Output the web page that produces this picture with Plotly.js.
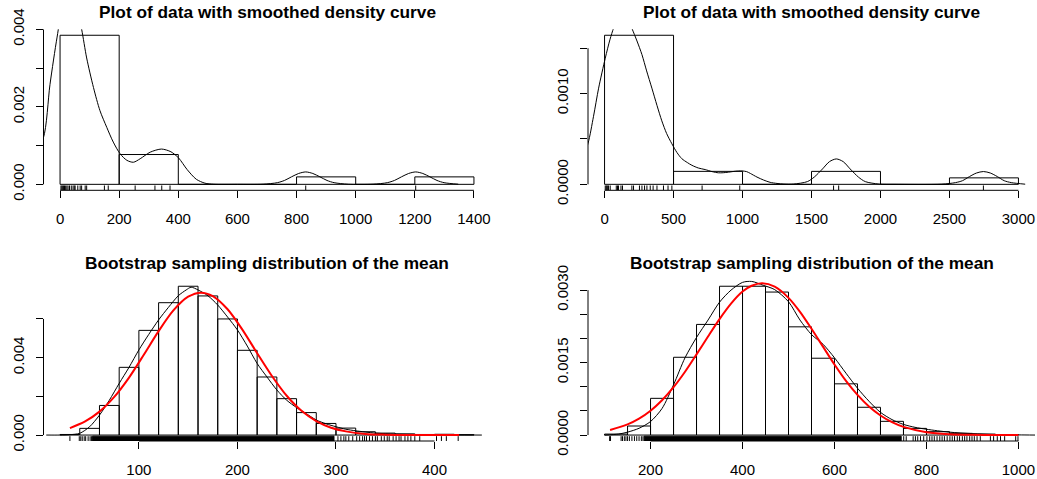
<!DOCTYPE html>
<html><head><meta charset="utf-8">
<script src="https://cdn.plot.ly/plotly-3.0.1.min.js"></script>
<style>html,body{margin:0;padding:0;background:#fff}#chart{width:1037px;height:479px}</style>
</head><body><div id="chart"></div>
<script>
// ---------- Panel A: top-left ----------
const aTitle = 'Plot of data with smoothed density curve';
const aBreaks = [0,200,400,600,800,1000,1200,1400];
const aDensity = [0.003846,0.000769,0,0,0.000192,0,0.000192];
const aRug = [3,6,9,12,15,19,23,27,32,38,44,48,51,60,68,73,85,90,150,163,254,321,344,372,831,1203];
const aKdeX = [-141,-100,-57,-34,-10,10,35,55,73,90,113,135,158,180,203,226,248,271,305,343,375,401,430,461,490,520,600,687,735,759,783,807,831,855,879,903,927,975,1059,1107,1131,1155,1179,1203,1227,1251,1275,1299,1347];
const aKdeY = [0.0002,0.0006,0.00118,0.00258,0.0038,0.0046,0.0049,0.0046,0.004,0.00326,0.0025,0.0019,0.00147,0.00109,0.00079,0.00062,0.00057,0.00066,0.00083,0.00091,0.00084,0.00068,0.00038,0.00013,0.00003,0.000003,0,0.000004,0.000043,0.0001,0.000194,0.00028,0.00032,0.00028,0.000194,0.0001,0.000043,0.000004,0.000004,0.000043,0.0001,0.000194,0.00028,0.00032,0.00028,0.000194,0.0001,0.000043,0.000004];
const aXTicks = [0,200,400,600,800,1000,1200,1400];
const aYTicks = [0,0.001,0.002,0.003,0.004];
const aYLabels = ['0.000','','0.002','','0.004'];

// ---------- Panel B: top-right ----------
const bTitle = 'Plot of data with smoothed density curve';
const bBreaks = [0,500,1000,1500,2000,2500,3000];
const bDensity = [0.001643,0.000143,0,0.000143,0,0.0000714];
const bRug = [5,12,17,23,29,41,85,94,101,119,130,198,210,253,271,290,307,331,352,380,427,460,488,707,980,1660,1697,2746];
const bKdeX = [-250,-180,-120,-80,-43,5,40,65,100,130,165,198,235,271,305,343,380,415,450,488,525,560,600,633,680,729,780,825,860,898,950,995,1030,1057,1105,1153,1200,1250,1300,1370,1470,1520,1580,1630,1680,1730,1780,1840,1890,1990,2100,2443,2544,2594,2645,2696,2746,2796,2847,2897,2948,3049];
const bKdeY = [0.00005,0.0002,0.00045,0.00075,0.00106,0.00139,0.0016,0.00172,0.00185,0.0019,0.00184,0.00172,0.00158,0.00143,0.00125,0.00106,0.00087,0.0007,0.00056,0.000447,0.00035,0.000283,0.00024,0.00021,0.00018,0.000163,0.00014,0.000127,0.000128,0.000134,0.000145,0.000148,0.00014,0.00012,0.00008,0.000047,0.000022,0.00001,0.000003,0.000003,0.00003,0.00008,0.00017,0.00025,0.00028,0.00025,0.00017,0.00008,0.00003,0.000003,0,0.0000016,0.000019,0.00004,0.0000855,0.000125,0.000141,0.000125,0.0000855,0.00004,0.000019,0.0000016];
const bXTicks = [0,500,1000,1500,2000,2500,3000];
const bYTicks = [0,0.0005,0.001,0.0015];
const bYLabels = ['0.0000','','0.0010',''];

// ---------- Panel C: bottom-left ----------
const cTitle = 'Bootstrap sampling distribution of the mean';
const cBreaks = [20,40,60,80,100,120,140,160,180,200,220,240,260,280,300,320,340,360,380,400,420,440];
const cDensity = [0.00003,0.000345,0.00153,0.0035,0.00541,0.00684,0.00769,0.00719,0.006,0.00438,0.003,0.00188,0.00116,0.0006,0.00036,0.00017,0.0001,0.00006,0.00003,0.00004,0.00002];
const cRug = [30,39.5,41,42.5,44.5,46,48.5,50.5,52,302,305,308,310,313,317,321,324,327,329,331,334,337,340,342,346,349,352,354,358,361,364,366,370,373,376,380,385,402,407,412,424];
const cRugBand = [53,298];
const cKdeX = [6,20,30,40,50,60,70,80,90,100,110,120,130,140,148,153,160,170,180,190,200,210,220,230,240,250,260,270,280,290,300,310,320,340,360,380,400,420,448];
const cKdeY = [0,0,0.00002,0.00009,0.00043,0.00103,0.0018,0.00267,0.0035,0.0044,0.0052,0.00595,0.0066,0.0072,0.0075,0.00764,0.0075,0.0072,0.00672,0.0061,0.00543,0.0046,0.0037,0.003,0.00233,0.0018,0.00142,0.0011,0.00078,0.00058,0.00043,0.0003,0.00022,0.0001,0.00005,0.00003,0.00001,0.000005,0];
const cNormX = [30,45,60,75,90,105,120,135,150,163,175,190,205,220,235,250,265,280,295,310,330,350,380,425];
const cNormY = [0.00036,0.00069,0.00121,0.00197,0.00297,0.00415,0.00537,0.00644,0.00715,0.00736,0.00718,0.0065,0.00545,0.00423,0.00305,0.00203,0.00125,0.00072,0.00038,0.00019,0.00006,0.00002,0.000002,0];
const cXTicks = [100,200,300,400];
const cYTicks = [0,0.002,0.004,0.006];
const cYLabels = ['0.000','','0.004',''];

// ---------- Panel D: bottom-right ----------
const dTitle = 'Bootstrap sampling distribution of the mean';
const dBreaks = [100,150,200,250,300,350,400,450,500,550,600,650,700,750,800,850,900,950,1000];
const dDensity = [0.00002,0.000187,0.00076,0.00161,0.00229,0.00308,0.00308,0.00296,0.00224,0.00159,0.00106,0.000575,0.000284,0.000138,0.00007,0.000035,0.00002,0.00001];
const dRug = [111,113,136,139,143,146.5,150,154,159.5,165,170,175,180,183.5,750.5,756,771,776,781,787,794,801,807,812,817,823,829,834,839,845,851,856,861,867,872,878,883,888,894,899,904,910,917,939,946,954,961,970,994,999];
const dRugBand = [186,745];
const dKdeX = [100,130,150,175,200,225,250,275,300,325,350,375,400,420,445,470,500,525,550,575,600,625,650,675,700,725,750,775,800,850,900,950,1000,1036];
const dKdeY = [0,0.00002,0.00006,0.00014,0.00028,0.00055,0.00104,0.0016,0.00202,0.00238,0.00275,0.003,0.00316,0.00318,0.0031,0.00301,0.00276,0.00238,0.00208,0.00188,0.0016,0.00128,0.00097,0.0007,0.00047,0.00032,0.00022,0.00016,0.00012,0.00006,0.00003,0.00001,0.000003,0];
const dNormX = [112,150,175,200,225,250,275,300,325,350,375,400,420,443,470,500,525,550,575,600,625,650,675,700,725,750,800,850,900,950,1000];
const dNormY = [0.000105,0.00022,0.000339,0.000503,0.00072,0.00099,0.00131,0.00167,0.00204,0.0024,0.00272,0.00297,0.00309,0.00314,0.00307,0.00284,0.00255,0.0022,0.00183,0.00146,0.00112,0.00083,0.00059,0.000405,0.000267,0.000169,0.00006,0.0000185,0.000005,0.000001,0];
const dXTicks = [200,400,600,800,1000];
const dYTicks = [0,0.0005,0.001,0.0015,0.002,0.0025,0.003];
const dYLabels = ['0.0000','','','0.0015','','','0.0030'];

// ---------- helpers ----------
const FONT = '"Liberation Sans", Arial, Helvetica, sans-serif';
const W = 1037, H = 479;
const colL = [43.5/W, 490.5/W], colR = [588/W, 1035/W];
const rowTop = [1-190.3/H, 1-29.3/H], rowBot = [1-441/H, 1-280.3/H];

function xRange(b){ const s=b[b.length-1]-b[0]; return [b[0]-0.04*s, b[b.length-1]+0.04*s]; }
function yRange(d){ const m=Math.max(...d); return [-0.04*m, 1.04*m]; }
function histPath(br, dens){ const x=[],y=[]; for(let i=0;i<dens.length;i++){ x.push(br[i],br[i],br[i+1],br[i+1],br[i],null); y.push(0,dens[i],dens[i],0,0,null);} return {x,y}; }
function rugPath(vals, y0, y1){ const x=[],y=[]; vals.forEach(v=>{x.push(v,v,null); y.push(y0,y1,null);}); return {x,y}; }

const traces = [], shapes = [], annotations = [], layout = {};
const panels = [
  {n:'', title:aTitle, br:aBreaks, dens:aDensity, rug:aRug, band:null, kx:aKdeX, ky:aKdeY, nx:null, ny:null, xt:aXTicks, yt:aYTicks, yl:aYLabels, xd:colL, yd:rowTop},
  {n:'2', title:bTitle, br:bBreaks, dens:bDensity, rug:bRug, band:null, kx:bKdeX, ky:bKdeY, nx:null, ny:null, xt:bXTicks, yt:bYTicks, yl:bYLabels, xd:colR, yd:rowTop},
  {n:'3', title:cTitle, br:cBreaks, dens:cDensity, rug:cRug, band:cRugBand, kx:cKdeX, ky:cKdeY, nx:cNormX, ny:cNormY, xt:cXTicks, yt:cYTicks, yl:cYLabels, xd:colL, yd:rowBot},
  {n:'4', title:dTitle, br:dBreaks, dens:dDensity, rug:dRug, band:dRugBand, kx:dKdeX, ky:dKdeY, nx:dNormX, ny:dNormY, xt:dXTicks, yt:dYTicks, yl:dYLabels, xd:colR, yd:rowBot}
];

panels.forEach(p=>{
  const xa='x'+p.n, ya='y'+p.n;
  const xr=xRange(p.br), yr=yRange(p.dens);
  const rugTop = yr[0] + 0.03*(yr[1]-yr[0]);
  const h = histPath(p.br, p.dens);
  traces.push({type:'scatter', mode:'lines', x:h.x, y:h.y, xaxis:xa, yaxis:ya, line:{color:'#000', width:1}, hoverinfo:'skip'});
  const r = rugPath(p.rug, yr[0], rugTop);
  traces.push({type:'scatter', mode:'lines', x:r.x, y:r.y, xaxis:xa, yaxis:ya, line:{color:'#000', width:1}, hoverinfo:'skip'});
  if(p.band){
    traces.push({type:'scatter', mode:'lines', x:[p.band[0],p.band[1],p.band[1],p.band[0],p.band[0]], y:[yr[0],yr[0],rugTop,rugTop,yr[0]], fill:'toself', fillcolor:'#000', xaxis:xa, yaxis:ya, line:{color:'#000', width:1}, hoverinfo:'skip'});
  }
  traces.push({type:'scatter', mode:'lines', x:p.kx, y:p.ky, xaxis:xa, yaxis:ya, line:{color:'#000', width:1, shape:'spline', smoothing:0.8}, hoverinfo:'skip'});
  if(p.nx){
    traces.push({type:'scatter', mode:'lines', x:p.nx, y:p.ny, xaxis:xa, yaxis:ya, line:{color:'#ff0000', width:2, shape:'spline', smoothing:0.8}, hoverinfo:'skip'});
  }
  const xkey='xaxis'+p.n, ykey='yaxis'+p.n;
  layout[xkey] = {domain:p.xd, range:xr, anchor:ya, tickmode:'array', tickvals:p.xt, ticktext:p.xt.map(String),
    ticks:'outside', ticklen:7, tickwidth:1, tickcolor:'#000', showline:false, showgrid:false, zeroline:false,
    tickfont:{family:FONT, size:15, color:'#000'}, fixedrange:true, ticklabelstandoff:8};
  layout[ykey] = {domain:p.yd, range:yr, anchor:xa, tickmode:'array', tickvals:p.yt, ticktext:p.yl, tickangle:-90,
    ticks:'outside', ticklen:7, tickwidth:1, tickcolor:'#000', showline:false, showgrid:false, zeroline:false,
    tickfont:{family:FONT, size:15, color:'#000'}, fixedrange:true, ticklabelstandoff:6};
  shapes.push({type:'line', xref:xa, yref:ya+' domain', x0:p.xt[0], x1:p.xt[p.xt.length-1], y0:0, y1:0, line:{color:'#000', width:1}});
  shapes.push({type:'line', xref:xa+' domain', yref:ya, x0:0, x1:0, y0:p.yt[0], y1:p.yt[p.yt.length-1], line:{color:'#000', width:1}});
  annotations.push({text:'<b>'+p.title+'</b>', xref:'paper', yref:'paper', x:(p.xd[0]+p.xd[1])/2, y:(p.yd===rowTop? 1-12.2/H : 1-263/H),
    xanchor:'center', yanchor:'middle', showarrow:false, font:{family:FONT, size:17.3, color:'#000'}});
});

Object.assign(layout, {width:W, height:H, margin:{l:0,r:0,t:0,b:0}, showlegend:false, hovermode:false,
  paper_bgcolor:'#fff', plot_bgcolor:'#fff', shapes, annotations});

Plotly.newPlot('chart', traces, layout, {displayModeBar:false, staticPlot:true});
</script></body></html>
